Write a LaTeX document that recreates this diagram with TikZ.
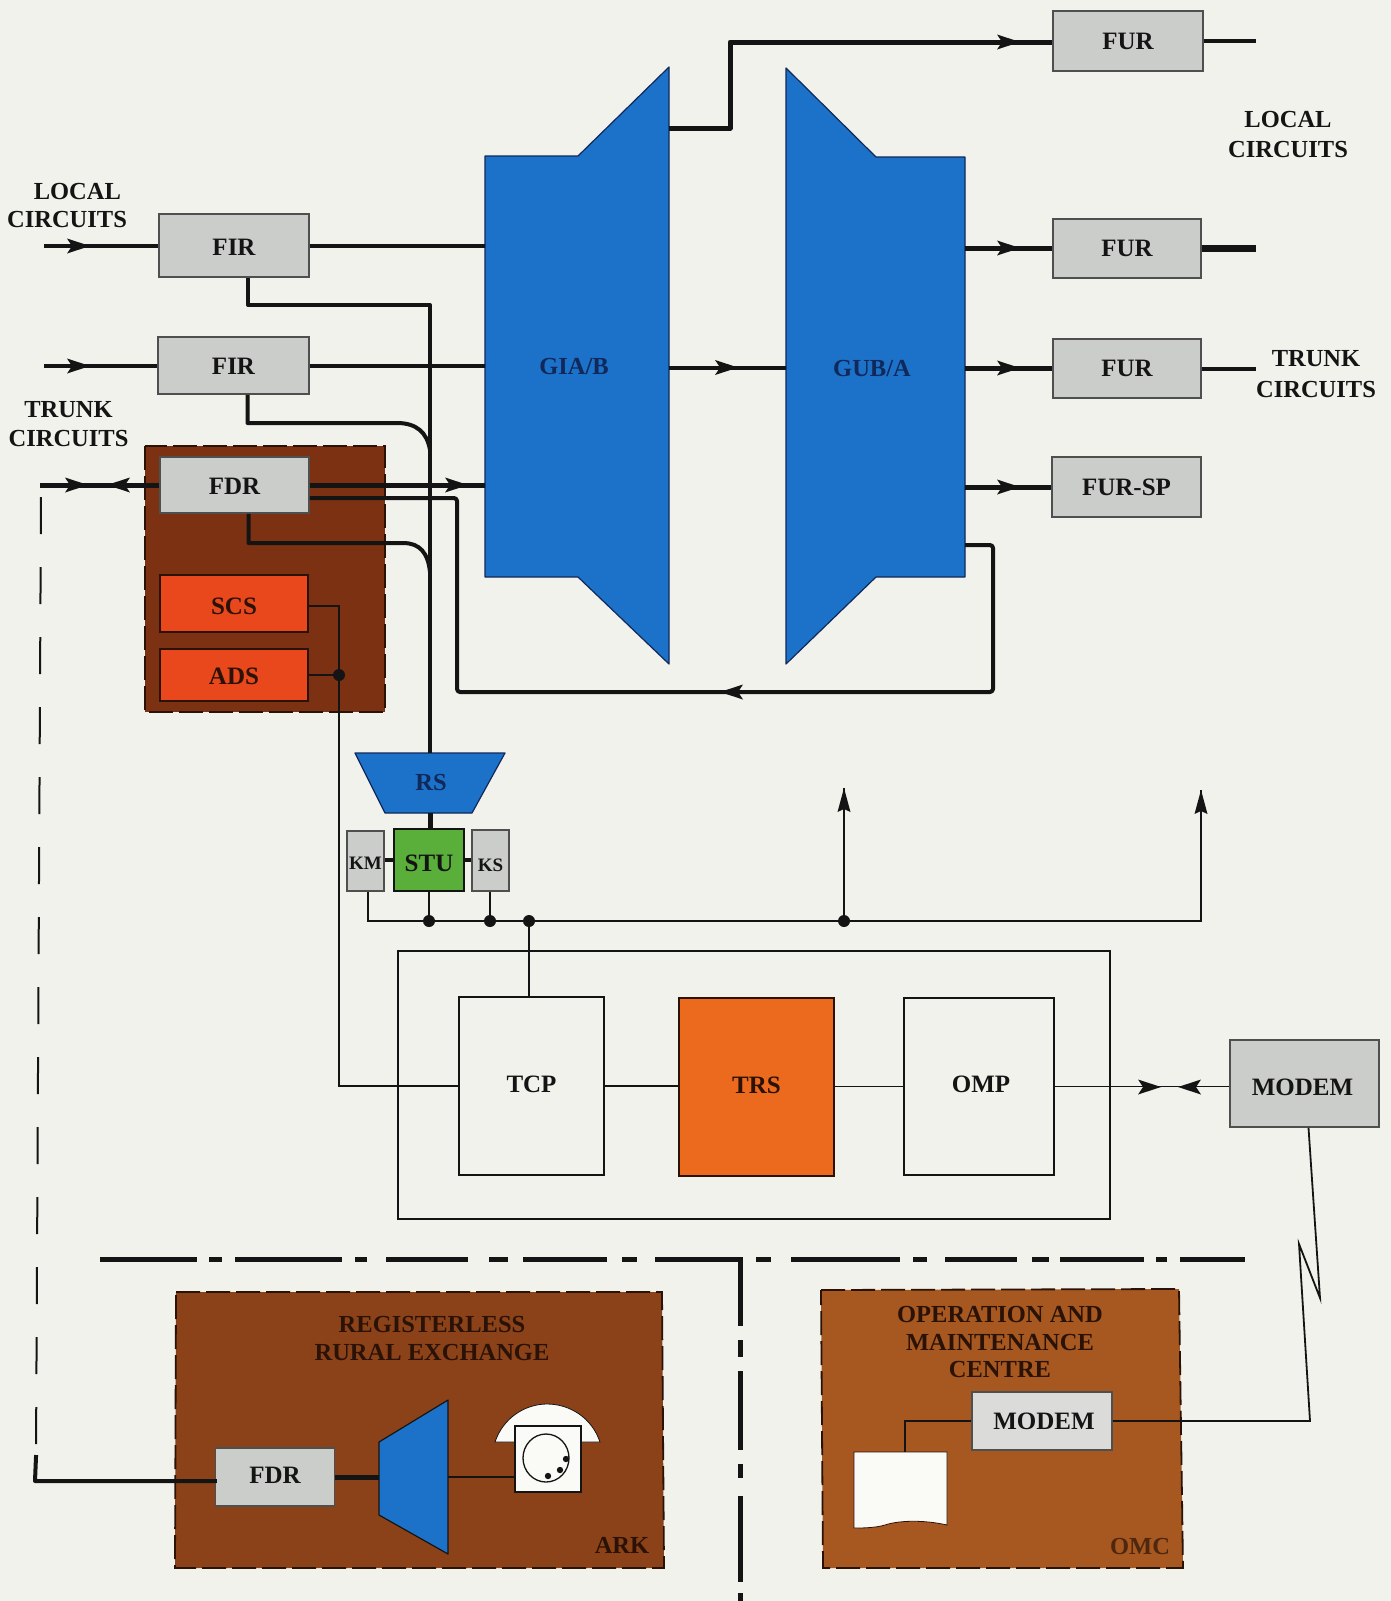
\documentclass[tikz,border=0pt]{standalone}
\usepackage{fontspec}
\setmainfont{Liberation Serif}
\definecolor{paperbg}{HTML}{F1F2EC}
\definecolor{ink}{HTML}{141414}
\definecolor{greyfill}{HTML}{CBCDCA}
\definecolor{bluefill}{HTML}{1C72C8}
\definecolor{navytxt}{HTML}{10285A}
\definecolor{redfill}{HTML}{E8481C}
\definecolor{orangefill}{HTML}{EC6A1E}
\definecolor{greenfill}{HTML}{5AAE3A}
\definecolor{brownA}{HTML}{7C3212}
\definecolor{brownB}{HTML}{8C4218}
\definecolor{brownC}{HTML}{A65820}
\definecolor{browntxt}{HTML}{2A1206}
\definecolor{whitefill}{HTML}{FAFAF6}
\tikzset{
  x=1pt,y=-1pt,
  lbl/.style={font=\bfseries\fontsize{24.5}{29}\selectfont,text=ink,inner sep=0pt,align=center},
  box/.style={draw=ink!75,line width=1.5pt,inner sep=0pt,font=\bfseries\fontsize{25}{29}\selectfont,text=ink},
  smallfont/.style={font=\bfseries\fontsize{19}{22}\selectfont},
  greybox/.style={box,fill=greyfill},
  redbox/.style={box,fill=redfill,draw=browntxt,text=browntxt},
  plainbox/.style={box,fill=paperbg,draw=ink},
  bluepoly/.style={draw=navytxt,line width=1.2pt,fill=bluefill,line join=round},
  brownbox/.style={draw=browntxt,line width=1.8pt,dash pattern=on 24pt off 6pt},
  wthick/.style={draw=ink,line width=5pt,line join=round},
  wmed/.style={draw=ink,line width=4pt,line join=round},
  wthin/.style={draw=ink,line width=1.8pt,line join=miter},
  sep/.style={draw=ink,line width=5pt},
  junction/.style={circle,fill=ink,inner sep=0pt,minimum size=12pt},
  midarrow/.pic={\fill[ink] (0,0) -- (-23,-7.5) -- (-18,0) -- (-23,7.5) -- cycle;},
  tiparrow/.pic={\fill[ink] (0,0) -- (-24,-6.5) -- (-21,0) -- (-24,6.5) -- cycle;},
}
\begin{document}
\begin{tikzpicture}
\useasboundingbox (0,0) rectangle (1391,1601);
\fill[paperbg] (0,0) rectangle (1391,1601);

% brown panels
\draw[brownbox,fill=brownA] (145,446) rectangle (385,712);
\draw[brownbox,fill=brownB] (176,1292) -- (662,1292) -- (664,1568) -- (175,1568) -- cycle;
\draw[brownbox,fill=brownC] (821,1290) -- (1179,1289) -- (1183,1568) -- (823,1568) -- cycle;

% big blue switches
\draw[bluepoly] (485,156) -- (578,156) -- (669,67) -- (669,664) -- (578,577) -- (485,577) -- cycle;
\draw[bluepoly] (786,68) -- (876,157) -- (965,157) -- (965,577) -- (876,577) -- (786,664) -- cycle;
\node[lbl,text=navytxt] (gia) at (574,367) {GIA/B};
\node[lbl,text=navytxt] (gub) at (872,369) {GUB/A};
\draw[bluepoly] (355,753) -- (505,753) -- (472,813) -- (385,813) -- cycle;
\node[lbl,text=navytxt] (rs) at (431,782) {RS};
\draw[bluepoly,draw=ink] (379,1442) -- (448,1400) -- (448,1554) -- (379,1515) -- cycle;

% boxes
\node[greybox,minimum width=150pt,minimum height=60pt] (fur1) at (1128,41) {FUR};
\node[greybox,minimum width=148pt,minimum height=59pt] (fur2) at (1127,248.5) {FUR};
\node[greybox,minimum width=148pt,minimum height=59pt] (fur3) at (1127,368.5) {FUR};
\node[greybox,minimum width=149pt,minimum height=60pt] (fursp) at (1126.5,487) {FUR-SP};
\node[greybox,minimum width=150pt,minimum height=63pt,text height=20.4pt,text depth=0pt] (fir1) at (234,245.5) {FIR};
\node[greybox,minimum width=151pt,minimum height=57pt,text height=18.4pt,text depth=0pt] (fir2) at (233.5,365.5) {FIR};
\node[greybox,minimum width=149pt,minimum height=56pt,text height=18.4pt,text depth=0pt] (fdr) at (234.5,485) {FDR};
\node[redbox,minimum width=148pt,minimum height=57pt,text height=22.4pt,text depth=0pt] (scs) at (234,603.5) {SCS};
\node[redbox,minimum width=148pt,minimum height=52pt,text height=18.4pt,text depth=0pt] (ads) at (234,675) {ADS};
\node[box,fill=greenfill,draw=ink,minimum width=70pt,minimum height=62pt,text height=22.4pt,text depth=0pt] (stu) at (429,860) {STU};
\node[greybox,smallfont,minimum width=37pt,minimum height=60pt,text height=16.5pt,text depth=0pt] (km) at (365.5,861) {KM};
\node[greybox,smallfont,minimum width=37pt,minimum height=61pt,text height=22.5pt,text depth=0pt] (ks) at (490.5,860.5) {KS};
\node[plainbox,minimum width=145pt,minimum height=178pt,text height=16.4pt,text depth=4pt] (tcp) at (531.5,1086) {TCP};
\node[box,fill=orangefill,draw=browntxt,text=browntxt,minimum width=155pt,minimum height=178pt,text height=16.4pt,text depth=4pt] (trs) at (756.5,1087) {TRS};
\node[plainbox,minimum width=150pt,minimum height=177pt,text height=16.4pt,text depth=4pt] (omp) at (979,1086.5) {\kern4pt OMP};
\node[greybox,minimum width=149pt,minimum height=87pt,text height=23.4pt,text depth=0pt] (modem) at (1304.5,1083.5) {MODEM\kern4pt};
\node[greybox,minimum width=119pt,minimum height=58pt,fill=greyfill,text height=16.4pt,text depth=4pt] (fdrb) at (275,1477) {FDR};
\node[greybox,minimum width=140pt,minimum height=58pt,fill=greyfill!70!white] (modemb) at (1042,1421) {\kern4pt MODEM};

% coordinates for connector ends
\coordinate (giaW) at (485,300);
\coordinate (giaE) at (669,128);
\coordinate (gubW) at (786,367.5);
\coordinate (gubE) at (965,300);
\coordinate (furTurn) at (730,42);
\coordinate (trunkA) at (430,305);
\coordinate (rsTop) at (430,753);
\coordinate (rsBot) at (430,813);
\coordinate (cFirB) at (397,423);
\coordinate (cFirC) at (430,450);
\coordinate (cFdrB) at (403,543);
\coordinate (cFdrC) at (430,572);
\coordinate (loopA) at (457,692);
\coordinate (loopB) at (993,692);
\coordinate (loopC) at (993,545);
\coordinate (loopD) at (965,545);
\coordinate (inA) at (44,246);
\coordinate (inB) at (44,366);
\coordinate (inC) at (40,485);
\coordinate (outX) at (1256,0);
\coordinate (scsCorner) at (339,606);
\coordinate (tcpFeed) at (339,1086);
\coordinate (busEnd) at (1201,921);
\coordinate (upA) at (844,788);
\coordinate (upB) at (1201,790);

% main thick connectors
\draw[wmed] (inA) -- (fir1.west |- inA);
\draw[wmed] (inB) -- (fir2.west |- inB);
\draw[wthick] (inC) -- (fdr.west);
\draw[wmed] (fir1.east) -- (fir1.east -| giaW);
\draw[wmed] (fir2.east) -- (fir2.east -| giaW);
\draw[wthick] (fdr.east) -- (fdr.east -| giaW);
\draw[wmed] ([xshift=14pt]fir1.south) |- (trunkA) -- (rsTop);
\draw[wmed] ([xshift=14pt]fir2.south) |- (cFirB) .. controls (416,423) and (427,432) .. (cFirC);
\draw[wmed] ([xshift=14pt]fdr.south) |- (cFdrB) .. controls (420,543) and (428,553) .. (cFdrC);
\draw[wmed,rounded corners=3pt] ([yshift=-13pt]fdr.east) -| (loopA) -- (loopB) -- (loopC) -- (loopD);
\draw[wthick] (giaE) -- (giaE -| furTurn) -- (furTurn) -- (fur1.west |- furTurn);
\draw[wmed] (gubW -| giaE) -- (gubW);
\draw[wthick] (gubE |- fur2.west) -- (fur2.west);
\draw[wthick] (gubE |- fur3.west) -- (fur3.west);
\draw[wthick] (gubE |- fursp.west) -- (fursp.west);
\draw[wmed] (fur1.east) -- (fur1.east -| outX);
\draw[line width=7pt,draw=ink] (fur2.east) -- (fur2.east -| outX);
\draw[wmed] (fur3.east) -- (fur3.east -| outX);
\draw[line width=5pt,draw=ink] (rsBot) -- (rsBot |- stu.north);
\draw[line width=4.5pt,draw=ink] (km.east |- stu.west) -- (stu.west);
\draw[line width=4.5pt,draw=ink] (stu.east) -- (ks.west |- stu.east);

% in-line arrows
\pic at (90,246) {midarrow};
\pic at (90,366) {midarrow};
\pic at (88,485) {midarrow};
\pic[rotate=180] at (107,485) {midarrow};
\pic at (468,485) {midarrow};
\pic[rotate=180] at (720,692) {midarrow};
\pic at (738,367.5) {midarrow};
\pic at (1020,42) {midarrow};
\pic at (1020,248) {midarrow};
\pic at (1020,368) {midarrow};
\pic at (1020,487) {midarrow};
\pic at (1161,1087) {midarrow};
\pic[rotate=180] at (1178,1087) {midarrow};

% thin control lines
\draw[wthin] ([yshift=-2.5pt]scs.east) -| (scsCorner) -- (tcpFeed) -- (tcp.west);
\draw[wthin] (ads.east) -- (ads.east -| scsCorner);
\node[junction] (jAds) at (339,675) {};
\draw[wthin] ([xshift=2.5pt]km.south) |- (busEnd) -- (upB);
\node[junction] (jStu) at (429,921) {};
\node[junction] (jKs) at (490,921) {};
\node[junction] (jTcp) at (529,921) {};
\node[junction] (jUp) at (844,921) {};
\draw[wthin] (stu.south) -- (jStu);
\draw[wthin] (ks.south -| jKs) -- (jKs);
\draw[wthin] (jTcp) -- (jTcp |- tcp.north);
\draw[wthin] (jUp) -- (upA);
\pic[rotate=90] at (upA) {tiparrow};
\pic[rotate=90] at (upB) {tiparrow};
\draw[wthin] (398,951) rectangle (1110,1219);
\draw[wthin] (tcp.east) -- (tcp.east -| trs.west);
\draw[wthin] (omp.west -| trs.east) -- (omp.west);
\draw[wthin] (omp.east) -- (modem.west |- omp.east);

% radio link
\coordinate (zigA) at (1320,1298);
\coordinate (zigB) at (1299,1244);
\coordinate (linkEnd) at (1310,1421);
\draw[wthin] ([xshift=4pt]modem.south) -- (zigA) -- (zigB) -- (linkEnd) -- (modemb.east);

% long dashed line to the rural exchange
\coordinate (dashTop) at (41,497);
\coordinate (dashBot) at (36,1457);
\coordinate (arkCorner) at (35,1481);
\draw[draw=ink,line width=2pt,dash pattern=on 37pt off 33pt] (dashTop) -- (dashBot);
\draw[wmed,line cap=rect] (dashBot) -- (arkCorner) -- (fdrb.west |- arkCorner);

% dash-dot divider
\foreach \a/\b in {100/197,209/222,235/342,355/367,386/468,489/508,523/607,622/637,655/743,756/771,791/900,913/927,945/1017,1032/1049,1060/1144,1156/1167,1180/1245}
  \draw[sep] (\a,1259) -- (\b,1259);
\foreach \a/\b in {1259/1326,1340/1357,1371/1450,1464/1478,1496/1582,1593/1601}
  \draw[sep] (740,\a) -- (740,\b);

% rural exchange content
\coordinate (trapL) at (379,1477);
\coordinate (trapR) at (448,1477);
\draw[line width=5pt,draw=ink] (fdrb.east) -- (trapL);
\filldraw[fill=whitefill,draw=ink,line width=0.8pt] (495,1442) .. controls (503,1418) and (525,1404) .. (547,1404) .. controls (570,1404) and (592,1418) .. (600,1442) -- cycle;
\node[box,draw=ink,fill=whitefill,minimum width=66pt,minimum height=66pt] (phone) at (548,1459) {};
\draw[wthin] (trapR) -- (trapR -| phone.west);
\draw[line width=1.3pt,draw=ink] (546,1458) ellipse [x radius=23,y radius=24];
\fill[ink] (566,1459) circle (3.2) (560,1470) circle (3.2) (548,1476) circle (3.2);

% OMC content
\node[inner sep=0pt,minimum size=0pt] (paper) at (905,1452) {};
\filldraw[fill=whitefill,draw=browntxt,line width=0.8pt] (854,1452) -- (947,1452) -- (947,1525) .. controls (925,1520) and (900,1520) .. (885,1525) .. controls (875,1528) and (862,1528) .. (854,1528) -- cycle;
\draw[wthin] (modemb.west) -| (paper.north);

% labels
\node[lbl,align=right,font=\bfseries\fontsize{24.5}{28.5}\selectfont] (lblLocalL) at (67,205.5) {LOCAL\kern6pt\\CIRCUITS};
\node[lbl,font=\bfseries\fontsize{24.5}{28.5}\selectfont] (lblTrunkL) at (68.5,424) {TRUNK\\CIRCUITS};
\node[lbl,font=\bfseries\fontsize{24.5}{30.5}\selectfont] (lblLocalR) at (1288,134.5) {LOCAL\\CIRCUITS};
\node[lbl,font=\bfseries\fontsize{24.5}{30.5}\selectfont] (lblTrunkR) at (1316,374) {TRUNK\\CIRCUITS};
\node[lbl,text=browntxt,font=\bfseries\fontsize{24.5}{28}\selectfont] (lblArk) at (432,1338) {REGISTERLESS\\RURAL EXCHANGE};
\node[lbl,text=browntxt] (lblArkTag) at (622,1545) {ARK};
\node[lbl,text=browntxt,font=\bfseries\fontsize{24.5}{27.5}\selectfont] (lblOmc) at (1000,1342) {OPERATION AND\\MAINTENANCE\\CENTRE};
\node[lbl,text=browntxt!70!brownC] (lblOmcTag) at (1140,1546) {OMC};
\end{tikzpicture}
\end{document}
